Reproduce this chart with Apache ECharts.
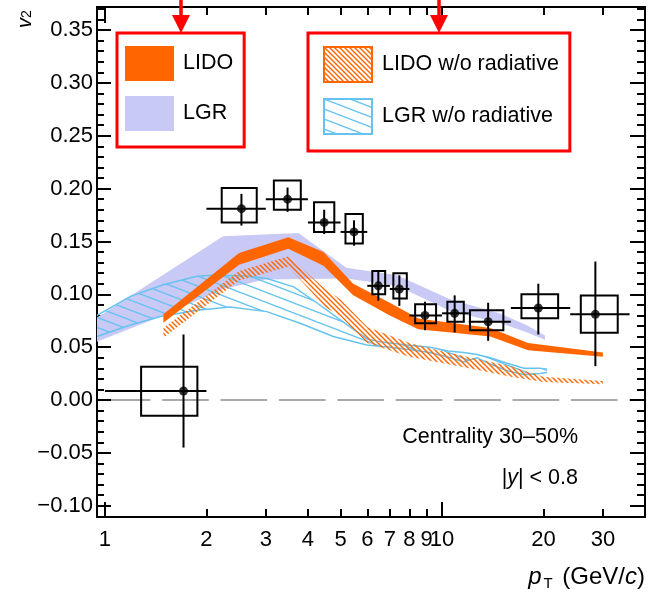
<!DOCTYPE html>
<html><head><meta charset="utf-8">
<script src="https://cdn.jsdelivr.net/npm/echarts@6/dist/echarts.min.js"></script>
<style>html,body{margin:0;padding:0;background:#fff}#c{width:650px;height:593px}</style>
</head><body><div id="c"></div>
<script>
// ---------- data ----------
const dataPt    = [1.71, 2.54, 3.48, 4.47, 5.48, 6.47, 7.47, 8.9, 10.9, 13.7, 19.3, 28.5];
const dataV2    = [0.0085, 0.181, 0.190, 0.168, 0.159, 0.108, 0.105, 0.080, 0.082, 0.074, 0.087, 0.081];
const statHigh  = [0.062, 0.195, 0.201, 0.180, 0.170, 0.122, 0.118, 0.093, 0.099, 0.092, 0.110, 0.131];
const statLow   = [-0.045, 0.165, 0.178, 0.157, 0.146, 0.094, 0.089, 0.066, 0.064, 0.056, 0.062, 0.032];
const sysHigh   = [0.0315, 0.2005, 0.2077, 0.187, 0.176, 0.122, 0.120, 0.0906, 0.093, 0.085, 0.100, 0.0988];
const sysLow    = [-0.015, 0.168, 0.180, 0.159, 0.148, 0.100, 0.096, 0.0726, 0.074, 0.066, 0.0774, 0.0637];
const binLow    = [1, 2, 3, 4, 5, 6, 7, 8, 10, 12, 16, 24];
const binHigh   = [2, 3, 4, 5, 6, 7, 8, 10, 12, 16, 24, 36];
const boxLow    = [1.28, 2.22, 3.17, 4.17, 5.17, 6.21, 7.17, 8.32, 10.37, 12.1, 17.2, 25.8];
const boxHigh   = [1.88, 2.82, 3.81, 4.79, 5.82, 6.78, 7.86, 9.6, 11.6, 15.2, 22.1, 33.2];

// LIDO (full) band
const lidoUpX = [1.49, 2.5, 3.5, 4.45, 5.45, 7.0, 8.5, 13.9, 18, 30];
const lidoUpY = [0.081, 0.139, 0.154, 0.140, 0.110, 0.092, 0.077, 0.068, 0.054, 0.045];
const lidoLoX = [1.49, 2.5, 3.5, 4.45, 5.45, 7.0, 8.5, 13.9, 18, 30];
const lidoLoY = [0.073, 0.128, 0.143, 0.127, 0.099, 0.080, 0.067, 0.060, 0.047, 0.041];

// LGR (full) band
const lgrUpX = [0.947, 2.24, 3.75, 5.2, 7.35, 10.6, 14.8, 17.8, 20.2];
const lgrUpY = [0.078, 0.155, 0.158, 0.125, 0.118, 0.095, 0.082, 0.071, 0.061];
const lgrLoX = [0.947, 1.49, 2.24, 3.0, 5.2, 7.35, 10.6, 14.8, 17.8, 20.2];
const lgrLoY = [0.055, 0.080, 0.105, 0.114, 0.115, 0.108, 0.084, 0.073, 0.064, 0.057];

// LIDO w/o radiative band
const lidoNrX  = [1.49, 2.5, 3.5, 4.5, 5.0, 6.0, 8.0, 10, 13, 16, 20, 30];
const lidoNrUp = [0.068, 0.122, 0.136, 0.105, 0.095, 0.069, 0.054, 0.046, 0.038, 0.032, 0.022, 0.018];
const lidoNrLo = [0.059, 0.113, 0.126, 0.088, 0.079, 0.054, 0.041, 0.035, 0.028, 0.022, 0.017, 0.015];

// LGR w/o radiative band
const lgrNrUpX = [0.947, 1.19, 1.49, 1.875, 2.1, 2.64, 3.02, 3.63, 4.25, 4.98, 5.98, 6.55, 7.85, 9.2, 10.6, 11.6, 12.7, 13.9, 15.5, 17.5, 19.5, 20.5];
const lgrNrUpY = [0.080, 0.098, 0.109, 0.117, 0.118, 0.1174, 0.115, 0.107, 0.092, 0.076, 0.058, 0.055, 0.052, 0.050, 0.046, 0.045, 0.043, 0.040, 0.035, 0.030, 0.030, 0.029];
const lgrNrLoX = [0.947, 1.19, 1.46, 1.875, 2.35, 3.02, 3.79, 4.76, 5.98, 7.0, 7.85, 9.2, 10.6, 11.6, 12.7, 13.9, 15.5, 17.5, 19.5, 20.5];
const lgrNrLoY = [0.060, 0.071, 0.079, 0.085, 0.088, 0.0836, 0.0726, 0.060, 0.052, 0.050, 0.048, 0.045, 0.040, 0.036, 0.040, 0.034, 0.028, 0.024, 0.025, 0.026];

// axis ticks / labels
const xTickLabels = [1, 2, 3, 4, 5, 6, 7, 8, 9, 10, 20, 30];
const xMajorTicks = [1, 10];
const xMinorTicks = [2, 3, 4, 5, 6, 7, 8, 9, 20, 30];
const yTickLabels = [-0.10, -0.05, 0.00, 0.05, 0.10, 0.15, 0.20, 0.25, 0.30, 0.35];
const yMinorTicks = [];
for (let i = -11; i <= 37; i++) { if (i % 5 !== 0) yMinorTicks.push(i / 100); }

const legendLeft  = ['LIDO', 'LGR'];
const legendRight = ['LIDO w/o radiative', 'LGR w/o radiative'];

// ---------- styles ----------
const FONT = "'Liberation Sans', Arial, Helvetica, sans-serif";
const C_ORANGE = '#ff6600';
const C_LAV = '#c9c9f6';
const C_BLUE = '#66c3ef';

function hatch(w, h, color, lw) {
  const c = document.createElement('canvas');
  c.width = w; c.height = h;
  const g = c.getContext('2d');
  g.strokeStyle = color; g.lineWidth = lw;
  for (let k = -2; k <= 2; k++) {
    g.beginPath();
    g.moveTo(-w, k * h - h);
    g.lineTo(2 * w, k * h + 2 * h);
    g.stroke();
  }
  return { image: c, repeat: 'repeat' };
}
const orangeHatch = hatch(5, 5, C_ORANGE, 1.4);
const blueHatch = hatch(26, 10, C_BLUE, 1.3);

function band(name, upX, upY, loX, loY, fill, z, edge) {
  return {
    name: name, type: 'custom', coordinateSystem: 'cartesian2d',
    xAxisIndex: 0, yAxisIndex: 0, z: z, silent: true,
    itemStyle: { color: typeof fill === 'string' ? fill : (edge || '#888') },
    data: upX.map((x, i) => [x, upY[i]]),
    renderItem: function (params, api) {
      if (params.dataIndex !== 0) return null;
      const top = upX.map((x, i) => api.coord([x, upY[i]]));
      const bot = loX.map((x, i) => api.coord([x, loY[i]]));
      const children = [{
        type: 'polygon',
        shape: { points: top.concat(bot.slice().reverse()) },
        style: { fill: fill, stroke: null }
      }];
      if (edge) {
        children.push({ type: 'polyline', shape: { points: top }, style: { fill: null, stroke: edge, lineWidth: 1.5 } });
        children.push({ type: 'polyline', shape: { points: bot }, style: { fill: null, stroke: edge, lineWidth: 1.5 } });
      }
      return { type: 'group', children: children };
    }
  };
}

const axisLineStyle = { color: '#000', width: 2 };
const xBase = {
  type: 'log', logBase: 10, min: 0.947, max: 40, gridIndex: 0,
  splitLine: { show: false }, minorTick: { show: false }, minorSplitLine: { show: false },
  axisLine: { show: false, onZero: false }, axisLabel: { show: false }, axisTick: { show: false }
};
const yBase = {
  type: 'value', min: -0.1107, max: 0.3718, gridIndex: 0,
  splitLine: { show: false }, axisLine: { show: false, onZero: false },
  axisLabel: { show: false }, axisTick: { show: false }
};

const option = {
  animation: false,
  textStyle: { fontFamily: FONT },
  grid: { left: 97, right: 5, top: 7, bottom: 76, show: true, borderColor: '#000', borderWidth: 2 },
  xAxis: [
    Object.assign({}, xBase, {
      position: 'bottom',
      axisLine: { show: true, onZero: false, lineStyle: axisLineStyle },
      axisTick: { show: true, inside: true, length: 15, lineStyle: axisLineStyle, customValues: xMajorTicks },
      axisLabel: { show: true, customValues: xTickLabels, fontSize: 22, color: '#000', margin: 12, fontFamily: FONT,
                   formatter: v => String(Math.round(v)) }
    }),
    Object.assign({}, xBase, {
      position: 'bottom',
      axisTick: { show: true, inside: true, length: 8, lineStyle: axisLineStyle, customValues: xMinorTicks }
    }),
    Object.assign({}, xBase, {
      position: 'top',
      axisLine: { show: true, onZero: false, lineStyle: axisLineStyle },
      axisTick: { show: true, inside: true, length: 16, lineStyle: axisLineStyle, customValues: xMajorTicks }
    }),
    Object.assign({}, xBase, {
      position: 'top',
      axisTick: { show: true, inside: true, length: 8, lineStyle: axisLineStyle, customValues: xMinorTicks }
    })
  ],
  yAxis: [
    Object.assign({}, yBase, {
      position: 'left',
      axisLine: { show: true, onZero: false, lineStyle: axisLineStyle },
      axisTick: { show: true, inside: true, length: 14, lineStyle: axisLineStyle, customValues: yTickLabels },
      axisLabel: { show: true, customValues: yTickLabels, fontSize: 22, color: '#000', margin: 4, fontFamily: FONT,
                   formatter: v => (v < -1e-9 ? '\u2212' : '') + Math.abs(v).toFixed(2) }
    }),
    Object.assign({}, yBase, {
      position: 'left',
      axisTick: { show: true, inside: true, length: 7, lineStyle: axisLineStyle, customValues: yMinorTicks }
    }),
    Object.assign({}, yBase, {
      position: 'right',
      axisLine: { show: true, onZero: false, lineStyle: axisLineStyle },
      axisTick: { show: true, inside: true, length: 15, lineStyle: axisLineStyle, customValues: yTickLabels }
    }),
    Object.assign({}, yBase, {
      position: 'right',
      axisTick: { show: true, inside: true, length: 8, lineStyle: axisLineStyle, customValues: yMinorTicks }
    })
  ],
  legend: [
    {
      data: [
        { name: legendLeft[0], icon: 'rect', itemStyle: { color: C_ORANGE, borderWidth: 0 } },
        { name: legendLeft[1], icon: 'rect', itemStyle: { color: C_LAV, borderWidth: 0 } }
      ],
      orient: 'vertical', left: 117, top: 33, itemWidth: 49, itemHeight: 35, itemGap: 15,
      padding: [13, 11, 16, 8], borderColor: '#ff0000', borderWidth: 3, selectedMode: false,
      textStyle: { fontSize: 21.5, color: '#000', fontFamily: FONT, padding: [0, 0, 0, 4] }
    },
    {
      data: [
        { name: legendRight[0], icon: 'rect', itemStyle: { color: orangeHatch, borderColor: C_ORANGE, borderWidth: 2 } },
        { name: legendRight[1], icon: 'rect', itemStyle: { color: blueHatch, borderColor: C_BLUE, borderWidth: 2 } }
      ],
      orient: 'vertical', left: 308, top: 33, itemWidth: 48, itemHeight: 35, itemGap: 15,
      padding: [13, 11, 16, 15], borderColor: '#ff0000', borderWidth: 3, selectedMode: false,
      textStyle: { fontSize: 21.5, color: '#000', fontFamily: FONT, padding: [0, 0, 0, 5] }
    }
  ],
  graphic: [
    { type: 'line', shape: { x1: 181, y1: 0, x2: 181, y2: 18 }, style: { stroke: '#ff0000', lineWidth: 3.5 }, z: 50 },
    { type: 'polygon', shape: { points: [[172, 15], [190, 15], [181, 33]] }, style: { fill: '#ff0000' }, z: 50 },
    { type: 'line', shape: { x1: 439, y1: 0, x2: 439, y2: 18 }, style: { stroke: '#ff0000', lineWidth: 3.5 }, z: 50 },
    { type: 'polygon', shape: { points: [[430, 15], [448, 15], [439, 33]] }, style: { fill: '#ff0000' }, z: 50 },
    { type: 'text', x: 578, y: 437, z: 50,
      style: { text: 'Centrality 30\u201350%', fill: '#000', font: '21.5px ' + FONT, textAlign: 'right', textVerticalAlign: 'middle' } },
    { type: 'text', x: 578, y: 478, z: 50,
      style: { text: '|{i|y}| < 0.8', fill: '#000', font: '21.5px ' + FONT, textAlign: 'right', textVerticalAlign: 'middle',
               rich: { i: { fontStyle: 'italic', fontSize: 21.5, fontFamily: FONT } } } },
    { type: 'text', x: 645, y: 577, z: 50,
      style: { text: '{i|p}{s|T}{n| (GeV/}{i|c}{n|)}', fill: '#000', textAlign: 'right', textVerticalAlign: 'middle',
               rich: {
                 i: { fontStyle: 'italic', fontSize: 24, fontFamily: FONT, lineHeight: 28, verticalAlign: 'middle' },
                 n: { fontSize: 24, fontFamily: FONT, lineHeight: 28, verticalAlign: 'middle' },
                 s: { fontSize: 15, fontFamily: FONT, lineHeight: 12, verticalAlign: 'bottom', padding: [0, 3, 0, 2] }
               } } },
    { type: 'text', x: 25, y: 28, rotation: Math.PI / 2, z: 50,
      style: { text: '{i|v}{s|2}', fill: '#000', textAlign: 'left', textVerticalAlign: 'middle',
               rich: {
                 i: { fontStyle: 'italic', fontSize: 20, fontFamily: FONT, lineHeight: 18, verticalAlign: 'middle' },
                 s: { fontSize: 14, fontFamily: FONT, lineHeight: 8, verticalAlign: 'bottom' }
               } } }
  ],
  series: [
    band('LGR', lgrUpX, lgrUpY, lgrLoX, lgrLoY, C_LAV, 1),
    band('LGR w/o radiative', lgrNrUpX, lgrNrUpY, lgrNrLoX, lgrNrLoY, blueHatch, 2, C_BLUE),
    band('LIDO w/o radiative', lidoNrX, lidoNrUp, lidoNrX, lidoNrLo, orangeHatch, 3),
    band('LIDO', lidoUpX, lidoUpY, lidoLoX, lidoLoY, C_ORANGE, 4),
    {
      name: 'data-unc', type: 'custom', coordinateSystem: 'cartesian2d', z: 6, silent: true,
      data: dataPt.map((x, i) => [x, dataV2[i], binLow[i], binHigh[i], boxLow[i], boxHigh[i], statLow[i], statHigh[i], sysLow[i], sysHigh[i]]),
      renderItem: function (params, api) {
        const x = api.value(0), y = api.value(1);
        const b1 = api.coord([api.value(2), y]), b2 = api.coord([api.value(3), y]);
        const s1 = api.coord([x, api.value(6)]), s2 = api.coord([x, api.value(7)]);
        const r1 = api.coord([api.value(4), api.value(9)]), r2 = api.coord([api.value(5), api.value(8)]);
        const st = { stroke: '#000', lineWidth: 2, fill: null };
        return { type: 'group', children: [
          { type: 'rect', shape: { x: r1[0], y: r1[1], width: r2[0] - r1[0], height: r2[1] - r1[1] }, style: st },
          { type: 'line', shape: { x1: b1[0], y1: b1[1], x2: b2[0], y2: b2[1] }, style: st },
          { type: 'line', shape: { x1: s1[0], y1: s1[1], x2: s2[0], y2: s2[1] }, style: st }
        ] };
      }
    },
    {
      name: 'data', type: 'scatter', z: 7, silent: true,
      symbol: 'circle', symbolSize: 9, itemStyle: { color: '#000' },
      data: dataPt.map((x, i) => [x, dataV2[i]]),
      markLine: {
        silent: true, symbol: 'none', label: { show: false }, z: 0,
        lineStyle: { color: '#aaaaaa', width: 2, type: [46.7, 11.7], dashOffset: 51.7 },
        data: [{ yAxis: 0 }]
      }
    }
  ]
};

const chart = echarts.init(document.getElementById('c'), null, { renderer: 'canvas' });
chart.setOption(option);
</script>
</body></html>
